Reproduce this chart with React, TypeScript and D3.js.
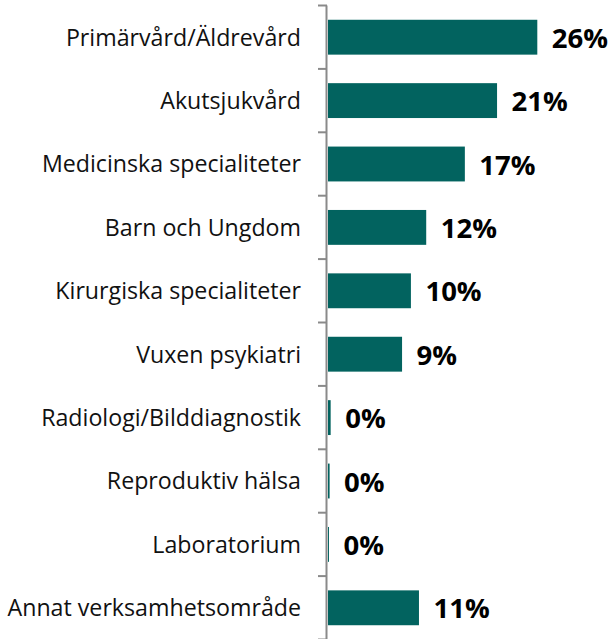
import React, { useEffect } from "react";
import * as d3 from "d3";

const categories: string[] = [
  "Primärvård/Äldrevård",
  "Akutsjukvård",
  "Medicinska specialiteter",
  "Barn och Ungdom",
  "Kirurgiska specialiteter",
  "Vuxen psykiatri",
  "Radiologi/Bilddiagnostik",
  "Reproduktiv hälsa",
  "Laboratorium",
  "Annat verksamhetsområde",
];
const values: number[] = [26.0, 21.0, 17.0, 12.2, 10.3, 9.2, 0.33, 0.2, 0.12, 11.3];
const valueLabels: string[] = ["26%", "21%", "17%", "12%", "10%", "9%", "0%", "0%", "0%", "11%"];

const W = 613;
const H = 639;
const X0 = 328;
const BAND = 63.4;
const TOP = 5.5;

export default function App() {
  useEffect(() => {
    document.body.style.margin = "0";
  }, []);

  const x = d3.scaleLinear().domain([0, 30]).range([X0, X0 + 30 * 8.05]);
  const y = d3
    .scaleBand<string>()
    .domain(categories)
    .range([TOP, TOP + BAND * categories.length])
    .paddingInner(0.45)
    .paddingOuter(0.225);

  const tickYs = d3.range(categories.length + 1).map((i) => TOP + i * BAND);

  return (
    <svg width={W} height={H} style={{ display: "block" }}>
      <rect width={W} height={H} fill="#ffffff" />
      {categories.map((c, i) => {
        const by = y(c)!;
        const bh = y.bandwidth();
        const cy = by + bh / 2;
        return (
          <g key={c}>
            <rect x={x(0)} y={by} width={x(values[i]) - x(0)} height={bh} fill="#02635F" />
            <text
              x={301}
              y={cy + 8.3}
              textAnchor="end"
              fontFamily="'Open Sans', sans-serif"
              fontSize={23.2}
              fill="#111"
            >
              {c}
            </text>
            <text
              x={x(values[i]) + 14.5}
              y={cy + 10.5}
              fontFamily="'Open Sans', sans-serif"
              fontWeight="bold"
              fontSize={27.5}
              fill="#000"
            >
              {valueLabels[i]}
            </text>
          </g>
        );
      })}
      <line x1={326.5} x2={326.5} y1={TOP} y2={H} stroke="#8a8a8a" strokeWidth={2} />
      {tickYs.map((ty, i) => (
        <line key={i} x1={318} x2={327} y1={ty} y2={ty} stroke="#8a8a8a" strokeWidth={2} />
      ))}
    </svg>
  );
}
